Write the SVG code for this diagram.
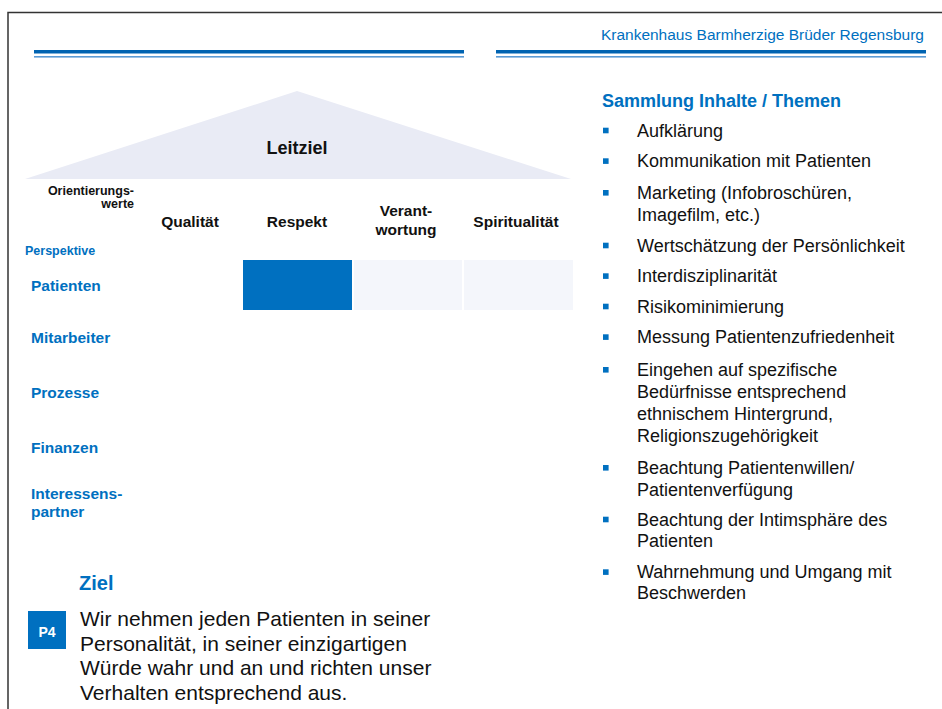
<svg xmlns="http://www.w3.org/2000/svg" width="942" height="709" viewBox="0 0 942 709">
<style>
text{font-family:"Liberation Sans",Arial,sans-serif}
.hd{font-size:15.5px;font-weight:bold;fill:#111;text-anchor:middle}
.row{font-size:15.5px;font-weight:bold;fill:#0070c0}
.sm{font-size:12.5px;font-weight:bold}
.li{font-size:18px;fill:#111}
.body{font-size:21px;fill:#111}
.bul{fill:#0070c0}
</style>
<rect width="942" height="709" fill="#fff"/>
<g id="frame" fill="none" stroke="#333" stroke-width="1.5">
<path d="M8 709 V12.5 H942"/>
</g>
<g id="header">
<text x="924" y="40" font-size="15.5" fill="#0070c0" text-anchor="end">Krankenhaus Barmherzige Brüder Regensburg</text>
<rect x="34" y="50" width="430" height="3.5" fill="#0063b1"/>
<rect x="34" y="56" width="430" height="1.6" fill="#5b9bd5"/>
<rect x="496" y="50" width="430" height="3.5" fill="#0063b1"/>
<rect x="496" y="56" width="430" height="1.6" fill="#5b9bd5"/>
</g>
<g id="leitziel">
<polygon points="297,91 25,179 571,179" fill="#e9ebf5"/>
<text x="297" y="154" font-size="18" font-weight="bold" fill="#111" text-anchor="middle">Leitziel</text>
</g>
<g id="orientierungswerte">
<text class="sm" x="134" y="194.5" text-anchor="end" fill="#111">Orientierungs-</text>
<text class="sm" x="134" y="208" text-anchor="end" fill="#111">werte</text>
</g>
<g id="col-qualitaet"><text class="hd" x="190" y="226.5">Qualität</text></g>
<g id="col-respekt"><text class="hd" x="297" y="226.5">Respekt</text></g>
<g id="col-verantwortung"><text class="hd" x="406" y="216">Verant-</text><text class="hd" x="406" y="235">wortung</text></g>
<g id="col-spiritualitaet"><text class="hd" x="516" y="226.5">Spiritualität</text></g>
<g id="perspektive"><text class="sm" x="25" y="255" fill="#0070c0">Perspektive</text></g>
<g id="cells">
<rect x="243" y="260" width="109" height="50" fill="#0070c0"/>
<rect x="354" y="260" width="108" height="50" fill="#f4f6fb"/>
<rect x="464" y="260" width="109" height="50" fill="#f4f6fb"/>
</g>
<g id="row-patienten"><text class="row" x="31" y="291">Patienten</text></g>
<g id="row-mitarbeiter"><text class="row" x="31" y="343">Mitarbeiter</text></g>
<g id="row-prozesse"><text class="row" x="31" y="397.5">Prozesse</text></g>
<g id="row-finanzen"><text class="row" x="31" y="453">Finanzen</text></g>
<g id="row-interessenspartner"><text class="row" x="31" y="498.5">Interessens-</text><text class="row" x="31" y="517">partner</text></g>
<g id="ziel">
<text x="79" y="590" font-size="20" font-weight="bold" fill="#0070c0">Ziel</text>
<rect x="28" y="611" width="38" height="38" fill="#0070c0"/>
<text x="47" y="636.5" font-size="14" font-weight="bold" fill="#fff" text-anchor="middle">P4</text>
<text class="body" x="80" y="626">Wir nehmen jeden Patienten in seiner</text>
<text class="body" x="80" y="650.7">Personalität, in seiner einzigartigen</text>
<text class="body" x="80" y="675.3">Würde wahr und an und richten unser</text>
<text class="body" x="80" y="700">Verhalten entsprechend aus.</text>
</g>
<g id="sammlung">
<text x="602" y="107" font-size="18" font-weight="bold" fill="#0070c0">Sammlung Inhalte / Themen</text>
<g class="bul">
<rect x="603" y="127.7" width="5.6" height="5.6"/>
<rect x="603" y="158.3" width="5.6" height="5.6"/>
<rect x="603" y="190" width="5.6" height="5.6"/>
<rect x="603" y="242.7" width="5.6" height="5.6"/>
<rect x="603" y="273.3" width="5.6" height="5.6"/>
<rect x="603" y="303.7" width="5.6" height="5.6"/>
<rect x="603" y="334.3" width="5.6" height="5.6"/>
<rect x="603" y="367" width="5.6" height="5.6"/>
<rect x="603" y="465" width="5.6" height="5.6"/>
<rect x="603" y="516.7" width="5.6" height="5.6"/>
<rect x="603" y="569.3" width="5.6" height="5.6"/>
</g>
<text class="li" x="637" y="136.7">Aufklärung</text>
<text class="li" x="637" y="167.3">Kommunikation mit Patienten</text>
<text class="li" x="637" y="199">Marketing (Infobroschüren,</text>
<text class="li" x="637" y="220.7">Imagefilm, etc.)</text>
<text class="li" x="637" y="251.7">Wertschätzung der Persönlichkeit</text>
<text class="li" x="637" y="282.3">Interdisziplinarität</text>
<text class="li" x="637" y="312.7">Risikominimierung</text>
<text class="li" x="637" y="343.3">Messung Patientenzufriedenheit</text>
<text class="li" x="637" y="376">Eingehen auf spezifische</text>
<text class="li" x="637" y="398">Bedürfnisse entsprechend</text>
<text class="li" x="637" y="420">ethnischem Hintergrund,</text>
<text class="li" x="637" y="441.7">Religionszugehörigkeit</text>
<text class="li" x="637" y="474">Beachtung Patientenwillen/</text>
<text class="li" x="637" y="495.7">Patientenverfügung</text>
<text class="li" x="637" y="525.7">Beachtung der Intimsphäre des</text>
<text class="li" x="637" y="547.3">Patienten</text>
<text class="li" x="637" y="578.3">Wahrnehmung und Umgang mit</text>
<text class="li" x="637" y="599.3">Beschwerden</text>
</g>
</svg>
